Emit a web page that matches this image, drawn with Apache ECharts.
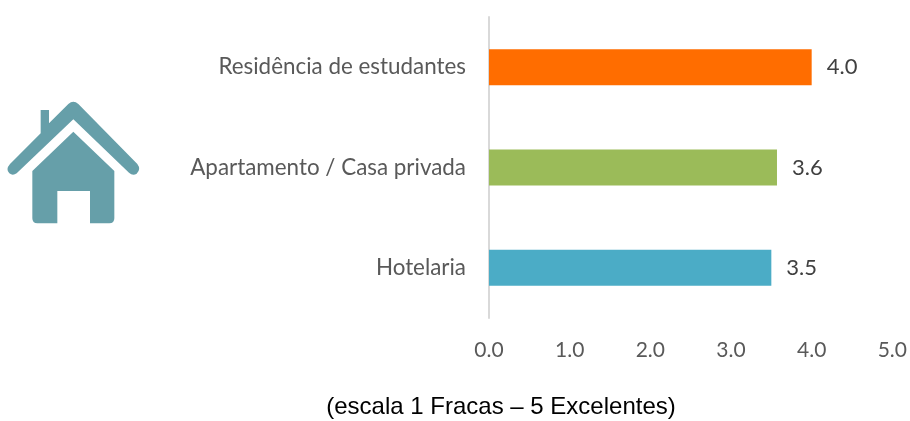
<!DOCTYPE html>
<html>
<head>
<meta charset="utf-8">
<script src="https://cdn.jsdelivr.net/npm/echarts@6/dist/echarts.min.js"></script>
<style>
  html, body { margin: 0; padding: 0; background: #fff; }
  #chart { width: 910px; height: 421px; }
</style>
</head>
<body>
<div id="chart"></div>
<script>
// bottom to top, as the category axis draws them
const categories = ['Hotelaria', 'Apartamento / Casa privada', 'Residência de estudantes'];
const values = [3.5, 3.57, 4.0]; // middle bar reads a little under its 3.6 label
const barColors = ['#4bacc6', '#9bbb59', '#ff6d00'];
const caption = '(escala 1 Fracas – 5 Excelentes)';

// house icon, drawn in the 3x coordinates of the crop
const roofPath = 'M122 60 L147 60 L147 100 L205 42 Q220 28 235 42 L412 222 Q424 238 410 251 Q398 258 387 248 L220 88 L50 250 Q38 258 28 250 Q16 238 30 222 L122 130 Z';
const bodyPath = 'M220 125 L343 243 L343 385 Q343 400 328 400 L270 400 L270 303 L172 303 L172 400 L112 400 Q97 400 97 385 L97 243 Z';

echarts.graphic.registerShape('houseRoof', echarts.graphic.extendPath(roofPath, {}));
echarts.graphic.registerShape('houseBody', echarts.graphic.extendPath(bodyPath, {}));

const chart = echarts.init(document.getElementById('chart'));

chart.setOption({
  backgroundColor: '#fff',
  animation: false,
  grid: { left: 489, right: 17.25, top: 17, bottom: 103 },
  xAxis: {
    type: 'value',
    min: 0,
    max: 5,
    interval: 1,
    axisLine: { show: false },
    axisTick: { show: false },
    splitLine: { show: false },
    axisLabel: {
      color: '#595959',
      fontFamily: 'Lato',
      fontSize: 21,
      margin: 22,
      formatter: v => v.toFixed(1)
    }
  },
  yAxis: {
    type: 'category',
    data: categories,
    offset: 1,
    axisLine: { show: true, lineStyle: { color: '#d9d9d9', width: 2 } },
    axisTick: { show: false },
    axisLabel: {
      color: '#595959',
      fontFamily: 'Lato',
      fontSize: 22.4,
      margin: 22
    }
  },
  series: [{
    type: 'bar',
    barWidth: 36,
    data: values.map((v, i) => ({ value: v, itemStyle: { color: barColors[i] } })),
    label: {
      show: true,
      position: 'right',
      distance: 15,
      color: '#404040',
      fontFamily: 'Lato',
      fontSize: 22,
      formatter: p => p.value.toFixed(1)
    }
  }],
  graphic: [
    {
      type: 'houseRoof',
      x: 0,
      y: 90,
      scaleX: 1 / 3,
      scaleY: 1 / 3,
      style: { fill: '#669fa9' }
    },
    {
      type: 'houseBody',
      x: 0,
      y: 90,
      scaleX: 1 / 3,
      scaleY: 1 / 3,
      style: { fill: '#669fa9' }
    },
    {
      type: 'text',
      x: 501,
      y: 407,
      style: {
        text: caption,
        fill: '#000',
        font: '24px "Liberation Sans"',
        textAlign: 'center',
        textVerticalAlign: 'middle'
      }
    }
  ]
});
</script>
</body>
</html>
